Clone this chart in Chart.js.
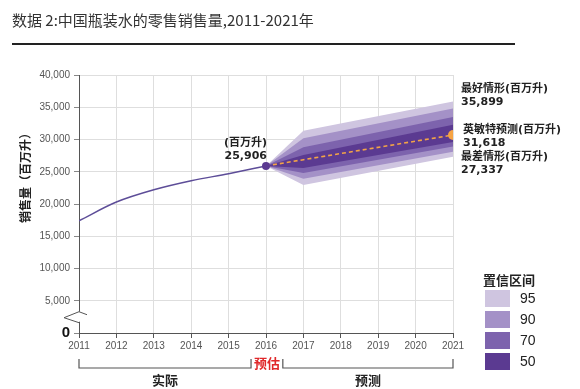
<!DOCTYPE html>
<html>
<head>
<meta charset="utf-8">
<script src="https://cdn.jsdelivr.net/npm/chart.js@4.4.1/dist/chart.umd.min.js"></script>
<style>
    html, body { margin: 0; padding: 0; background: #fff; }
    #wrap { position: relative; width: 580px; height: 389px; overflow: hidden; }
    #title {
        position: absolute; left: 12px; top: 9px;
        font: 15px "Noto Sans CJK SC", sans-serif; color: #333; white-space: nowrap;
    }
    #rule { position: absolute; left: 12px; top: 43px; width: 503px; height: 2px; background: #222; }
    canvas { position: absolute; left: 0; top: 0; }
</style>
</head>
<body>
<div id="wrap">
    <canvas id="chart" width="580" height="389"></canvas>
    <div id="title">数据 2:中国瓶装水的零售销售量,2011-2021年</div>
    <div id="rule"></div>
</div>
<script>
// actual sales, millions of litres
const actualYears = [2011, 2012, 2013, 2014, 2015, 2016];
const actualVals  = [17400, 20300, 22200, 23600, 24700, 25906];

// forecast fan (2016 estimate -> 2021)
const fanYears  = [2016, 2017, 2021];
const fanCenter = [25906, 26870, 30700];
const band95Hi  = [25906, 31350, 35899];
const band95Lo  = [25906, 22950, 27337];
const band90Hi  = [25906, 30200, 34800];
const band90Lo  = [25906, 23900, 28100];
const band70Hi  = [25906, 28800, 33500];
const band70Lo  = [25906, 24800, 28900];
const band50Hi  = [25906, 27600, 32300];
const band50Lo  = [25906, 25600, 29600];

const bandLabels = ['95', '90', '70', '50'];
const bandColors = ['#cfc5e0', '#a491c7', '#7d63ad', '#5b3a91'];

const yTicks = [0, 5000, 10000, 15000, 20000, 25000, 30000, 35000, 40000];

const notes = {
    estLabel: '(百万升)',
    estValue: '25,906',
    best:  ['最好情形(百万升)', '35,899'],
    fcst:  ['英敏特预测(百万升)', '31,618'],
    worst: ['最差情形(百万升)', '27,337'],
};

const pts = (xs, ys) => xs.map((x, i) => ({ x, y: ys[i] }));

function bandPair(hi, lo, color, order) {
    return [
        { data: pts(fanYears, hi), borderWidth: 0, pointRadius: 0, fill: false, order },
        { data: pts(fanYears, lo), borderWidth: 0, pointRadius: 0, fill: '-1', backgroundColor: color, order },
    ];
}

const CJK  = '"Noto Sans CJK SC", sans-serif';
const BOLD = '"DejaVu Sans", "Noto Sans CJK SC", sans-serif';
const isZero = c => !!(c.tick && c.tick.value === 0);

const decorPlugin = {
    id: 'decor',
    afterDraw(chart) {
        const { ctx, scales: { x, y } } = chart;
        const ax = x.getPixelForValue(2011);
        ctx.save();

        // axis break on the y axis
        const bt = y.getPixelForValue(3300);
        ctx.fillStyle = '#fff';
        ctx.fillRect(ax - 2, bt, 4, 10);
        ctx.strokeStyle = '#555';
        ctx.lineWidth = 1;
        ctx.beginPath();
        ctx.moveTo(ax + 8, bt + 3);
        ctx.lineTo(ax, bt);
        ctx.lineTo(ax - 15, bt + 6);
        ctx.lineTo(ax, bt + 11);
        ctx.stroke();

        // y axis title
        ctx.save();
        ctx.translate(25, 175);
        ctx.rotate(-Math.PI / 2);
        ctx.fillStyle = '#222';
        ctx.font = 'bold 12px ' + CJK;
        ctx.textAlign = 'center';
        ctx.textBaseline = 'middle';
        ctx.fillText('销售量（百万升）', 0, 0);
        ctx.restore();

        // label at the 2016 estimate
        const ex = x.getPixelForValue(2016);
        const ey = y.getPixelForValue(actualVals[actualVals.length - 1]);
        ctx.fillStyle = '#222';
        ctx.textBaseline = 'middle';
        ctx.textAlign = 'right';
        ctx.font = 'bold 11px ' + BOLD;
        ctx.fillText(notes.estLabel, ex + 1, ey - 23);
        ctx.fillText(notes.estValue, ex + 1, ey - 10);

        // scenario labels at 2021
        const rx = x.getPixelForValue(2021) + 8;
        ctx.textAlign = 'left';
        const lines = [
            [notes.best, y.getPixelForValue(band95Hi[2]) - 12, 0],
            [notes.fcst, y.getPixelForValue(fanCenter[2]) - 5, 2],
            [notes.worst, y.getPixelForValue(band95Lo[2]), 0],
        ];
        lines.forEach(([txt, ty, dx]) => {
            ctx.fillText(txt[0], rx + dx, ty);
            ctx.fillText(txt[1], rx + dx, ty + 13);
        });

        // period brackets under the axis
        const bx = v => x.getPixelForValue(v);
        ctx.strokeStyle = '#555';
        ctx.lineWidth = 1.2;
        ctx.beginPath();
        ctx.moveTo(bx(2011), 359); ctx.lineTo(bx(2011), 368);
        ctx.lineTo(bx(2015.6), 368); ctx.lineTo(bx(2015.6), 359);
        ctx.moveTo(bx(2016.45), 359); ctx.lineTo(bx(2016.45), 368);
        ctx.lineTo(bx(2021), 368); ctx.lineTo(bx(2021), 359);
        ctx.stroke();

        ctx.font = 'bold 13px ' + CJK;
        ctx.textAlign = 'center';
        ctx.fillStyle = '#e0282a';
        ctx.fillText('预估', bx(2016) + 1, 363);
        ctx.fillStyle = '#222';
        ctx.fillText('实际', (bx(2011) + bx(2015.6)) / 2, 380);
        ctx.fillText('预测', (bx(2016.45) + bx(2021)) / 2, 380);

        // confidence legend
        ctx.textAlign = 'left';
        ctx.font = 'bold 13px ' + CJK;
        ctx.fillText('置信区间', 483, 280);
        ctx.font = '14px "Liberation Sans", Arial, sans-serif';
        bandLabels.forEach((lab, i) => {
            const top = 290 + i * 21;
            ctx.fillStyle = bandColors[i];
            ctx.fillRect(485, top, 25, 17);
            ctx.fillStyle = '#222';
            ctx.fillText(lab, 520, top + 9);
        });

        ctx.restore();
    }
};

new Chart(document.getElementById('chart').getContext('2d'), {
    type: 'line',
    data: {
        datasets: [
            ...bandPair(band95Hi, band95Lo, bandColors[0], 10),
            ...bandPair(band90Hi, band90Lo, bandColors[1], 9),
            ...bandPair(band70Hi, band70Lo, bandColors[2], 8),
            ...bandPair(band50Hi, band50Lo, bandColors[3], 7),
            {
                data: pts(fanYears, fanCenter), borderColor: '#f2a347', borderWidth: 1.6,
                borderDash: [4, 3], pointRadius: 0, fill: false, order: 3,
            },
            {
                data: pts(actualYears, actualVals), borderColor: '#5d4d98', borderWidth: 1.5,
                tension: 0.4, cubicInterpolationMode: 'monotone', pointRadius: 0, fill: false, order: 2,
            },
            {
                data: [{ x: 2016, y: actualVals[actualVals.length - 1] }], showLine: false,
                pointRadius: 4, pointBackgroundColor: '#5b3a91', pointBorderWidth: 0, order: 1,
            },
            {
                data: [{ x: 2021, y: fanCenter[fanCenter.length - 1] }], showLine: false,
                pointRadius: 5, pointBackgroundColor: '#f6a343', pointBorderWidth: 0, order: 0,
            },
        ]
    },
    options: {
        responsive: false, animation: false,
        layout: { padding: { left: 0, top: 75, right: 127, bottom: 0 } },
        plugins: { legend: { display: false }, tooltip: { enabled: false } },
        scales: {
            x: {
                type: 'linear', min: 2011, max: 2021,
                afterFit: s => { s.height = 56; },
                grid: { color: '#dedede', tickColor: '#555', tickLength: 5 },
                border: { color: '#555' },
                ticks: {
                    stepSize: 1, padding: 2, color: '#555',
                    font: { family: '"Liberation Sans", Arial', size: 10 },
                    callback: v => String(v),
                },
            },
            y: {
                min: 0, max: 40000,
                afterFit: s => { s.width = 79; },
                afterBuildTicks: s => { s.ticks = yTicks.map(v => ({ value: v })); },
                grid: { color: '#dedede', tickColor: '#888', tickLength: 5 },
                border: { color: '#555' },
                ticks: {
                    padding: 4,
                    color: c => isZero(c) ? '#111' : '#555',
                    font: c => isZero(c)
                        ? { family: '"Liberation Sans", Arial', size: 15, weight: 'bold' }
                        : { family: '"Liberation Sans", Arial', size: 10 },
                    callback: v => v.toLocaleString('en-US'),
                },
            },
        },
    },
    plugins: [decorPlugin],
});
</script>
</body>
</html>
